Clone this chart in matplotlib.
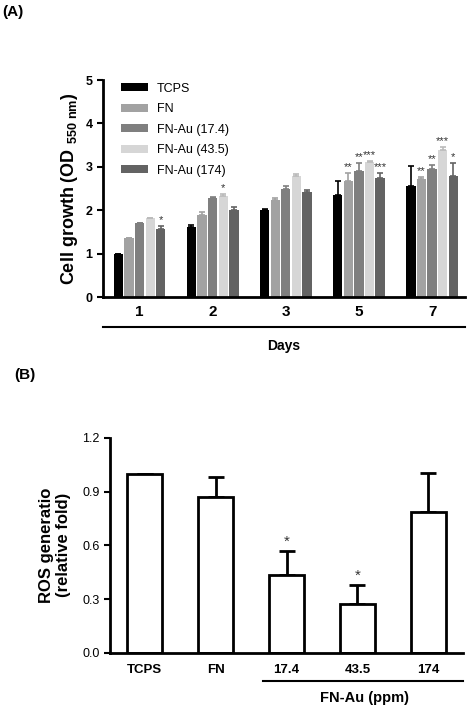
import numpy as np
import matplotlib
matplotlib.use("Agg")
import matplotlib.pyplot as plt

plt.rcParams['font.family'] = ['Liberation Sans', 'DejaVu Sans']

# panel A: cell growth
days = ["1", "2", "3", "5", "7"]
groups = ["TCPS", "FN", "FN-Au (17.4)", "FN-Au (43.5)", "FN-Au (174)"]
colors = ["#000000", "#a2a2a2", "#7f7f7f", "#d6d6d6", "#636363"]
growth = [
    [1.00, 1.61, 2.01, 2.35, 2.55],
    [1.35, 1.90, 2.23, 2.67, 2.71],
    [1.70, 2.27, 2.50, 2.90, 2.96],
    [1.82, 2.33, 2.78, 3.12, 3.38],
    [1.57, 2.01, 2.42, 2.75, 2.79],
]
growth_err = [
    [0.00, 0.06, 0.01, 0.32, 0.47],
    [0.00, 0.07, 0.04, 0.18, 0.06],
    [0.01, 0.04, 0.06, 0.18, 0.08],
    [0.01, 0.05, 0.05, 0.01, 0.08],
    [0.06, 0.06, 0.04, 0.10, 0.29],
]
growth_stars = [
    ["", "", "", "", ""],
    ["", "", "", "**", "**"],
    ["", "", "", "**", "**"],
    ["", "*", "", "***", "***"],
    ["*", "", "", "***", "*"],
]

# panel B: ROS generation
ros_labels = ["TCPS", "FN", "17.4", "43.5", "174"]
ros = [1.00, 0.868, 0.436, 0.274, 0.786]
ros_err = [0.0, 0.115, 0.133, 0.106, 0.219]
ros_stars = ["", "", "*", "*", ""]

fig = plt.figure(figsize=(4.74, 7.08), dpi=100)

# ---- (A)
ax = fig.add_axes([0.2173, 0.5805, 0.7637, 0.3065])
x = np.arange(len(days))
w = 0.145
for i, g in enumerate(groups):
    xs = x + (i - 2) * w
    ax.bar(xs, growth[i], width=w * 0.88, color=colors[i], label=g, zorder=2)
    ax.errorbar(xs, growth[i], yerr=[np.zeros(len(days)), growth_err[i]],
                fmt="none", ecolor=colors[i] if i != 3 else "#bbbbbb",
                elinewidth=1.2, capsize=2, capthick=1.2, zorder=3)
    for j, s in enumerate(growth_stars[i]):
        if s:
            ax.text(xs[j], growth[i][j] + growth_err[i][j] + 0.02, s,
                    ha="center", va="bottom", fontsize=8, color="#333333")

ax.set_xlim(-0.5, 4.45)
ax.set_ylim(0, 5)
ax.set_yticks([0, 1, 2, 3, 4, 5])
ax.set_xticks(x)
ax.set_xticklabels(days, fontsize=11, fontweight="bold")
ax.tick_params(axis="x", length=0, pad=6)
ax.tick_params(axis="y", length=4, width=1.5, labelsize=9)
for t in ax.get_yticklabels():
    t.set_fontweight("bold")
for s in ["top", "right"]:
    ax.spines[s].set_visible(False)
ax.spines["left"].set_linewidth(2)
ax.spines["bottom"].set_linewidth(2)
ax.set_ylabel("Cell growth (OD $_{\\mathregular{550\\ nm}}$)", fontsize=13,
              fontweight="bold", labelpad=4)
ax.plot([0, 1], [-0.138, -0.138], transform=ax.transAxes, color="black",
        lw=1.5, clip_on=False)
ax.text(0.5, -0.228, "Days", transform=ax.transAxes, ha="center", va="center",
        fontsize=10, fontweight="bold")
leg = ax.legend(loc="upper left", bbox_to_anchor=(0.02, 1.04), frameon=False,
                fontsize=9, handlelength=2.1, handleheight=0.65,
                labelspacing=0.68, handletextpad=0.75)

fig.text(0.004, 0.983, "(A)", fontsize=11, fontweight="bold", va="center")

# ---- (B)
bx = fig.add_axes([0.232, 0.0777, 0.745, 0.3041])
xb = np.arange(len(ros_labels))
bx.bar(xb, ros, width=0.5, color="white", edgecolor="black", linewidth=2,
       zorder=2)
bx.errorbar(xb, ros, yerr=[np.zeros(len(ros)), ros_err], fmt="none",
            ecolor="black", elinewidth=2, capsize=6, capthick=2, zorder=1)
for j, s in enumerate(ros_stars):
    if s:
        bx.text(xb[j], ros[j] + ros_err[j] + 0.01, s, ha="center",
                va="bottom", fontsize=11, color="#333333")
bx.set_xlim(-0.49, 4.49)
bx.set_ylim(0, 1.2)
bx.set_yticks([0, 0.3, 0.6, 0.9, 1.2])
bx.set_yticklabels(["0.0", "0.3", "0.6", "0.9", "1.2"], fontsize=9)
bx.set_xticks(xb)
bx.set_xticklabels(ros_labels, fontsize=9.5, fontweight="bold")
bx.tick_params(axis="x", length=0, pad=8)
bx.tick_params(axis="y", length=4, width=1.5)
for s in ["top", "right"]:
    bx.spines[s].set_visible(False)
bx.spines["left"].set_linewidth(2)
bx.spines["bottom"].set_linewidth(2)
bx.set_ylabel("ROS generatio\n(relative fold)", fontsize=12,
              fontweight="bold", labelpad=8)
bx.plot([0.433, 1.0], [-0.13, -0.13], transform=bx.transAxes, color="black",
        lw=1.5, clip_on=False)
bx.text(0.722, -0.21, "FN-Au (ppm)", transform=bx.transAxes, ha="center",
        va="center", fontsize=10.5, fontweight="bold")

fig.text(0.03, 0.47, "(B)", fontsize=11, fontweight="bold", va="center")

fig.savefig("out.png", dpi=100)
